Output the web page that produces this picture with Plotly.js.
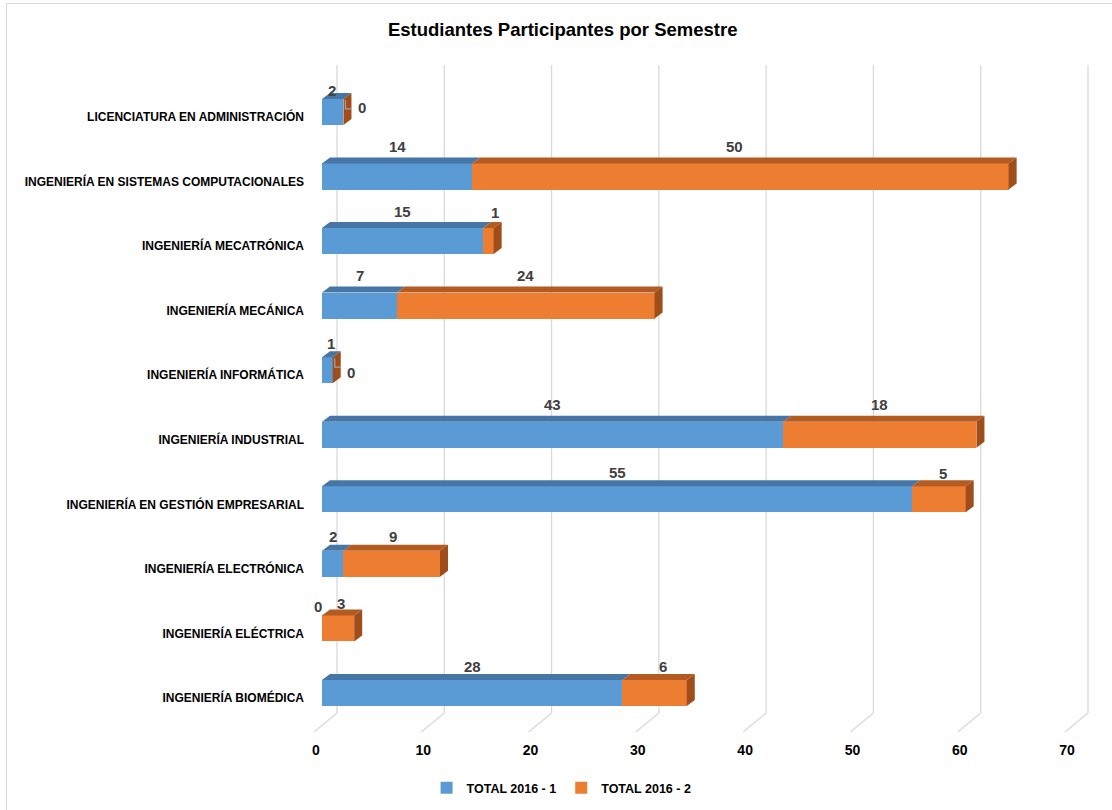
<!DOCTYPE html>
<html>
<head>
<meta charset="utf-8">
<script src="https://cdn.plot.ly/plotly-3.0.1.min.js"></script>
<style>
  html, body { margin: 0; padding: 0; background: #ffffff; }
  #chart { width: 1112px; height: 810px; }
  #frame { position: absolute; left: 6px; top: 3px; width: 1200px; height: 900px;
           border-left: 1px solid #d9d9d9; border-top: 1px solid #d9d9d9; pointer-events: none; }
</style>
</head>
<body>
<div id="chart"></div>
<div id="frame"></div>
<script>
// ---------------- data ----------------
const categories = [
  'INGENIERÍA BIOMÉDICA',
  'INGENIERÍA ELÉCTRICA',
  'INGENIERÍA ELECTRÓNICA',
  'INGENIERÍA EN GESTIÓN EMPRESARIAL',
  'INGENIERÍA INDUSTRIAL',
  'INGENIERÍA INFORMÁTICA',
  'INGENIERÍA MECÁNICA',
  'INGENIERÍA MECATRÓNICA',
  'INGENIERÍA EN SISTEMAS COMPUTACIONALES',
  'LICENCIATURA EN ADMINISTRACIÓN'
];
const total2016_1 = [28, 0, 2, 55, 43, 1, 7, 15, 14, 2];
const total2016_2 = [6, 3, 9, 5, 18, 0, 24, 1, 50, 0];
const seriesNames = ['TOTAL 2016 - 1', 'TOTAL 2016 - 2'];
const xTicks = [0, 10, 20, 30, 40, 50, 60, 70];
const chartTitle = 'Estudiantes Participantes por Semestre';

// ---------------- styling / geometry ----------------
const FONT = '"Liberation Sans Narrow", "Arial Narrow", "Liberation Sans", Arial, sans-serif';
const W = 1112, H = 810;
const M = { l: 305, r: 12, t: 60, b: 78 };
const plotW = W - M.l - M.r, plotH = H - M.t - M.b;
const pxPerX = 751 / 70;                 // front-plane scale
const xMin = -17 / pxPerX;
const xMax = xMin + plotW / pxPerX;
const pxPerY = 64.56;
const yMin = -0.527;
const yMax = yMin + plotH / pxPerY;
const barWidth = 0.403, barOffset = -0.124;
const depthX = 8 / pxPerX, depthY = 6 / pxPerY;

const colors = {
  blue: '#5B9BD5', blueTop: '#4576A6',
  orange: '#ED7D31', orangeTop: '#B35B22', orangeSide: '#9E4D1B',
  grid: '#D9D9D9', text: '#404040'
};

const yIdx = categories.map((_, i) => i);

const traces = [
  { type: 'bar', orientation: 'h', name: seriesNames[0], y: yIdx, x: total2016_1,
    width: barWidth, offset: barOffset, marker: { color: colors.blue, line: { width: 0 } },
    hoverinfo: 'skip' },
  { type: 'bar', orientation: 'h', name: seriesNames[1], y: yIdx, x: total2016_2,
    width: barWidth, offset: barOffset, marker: { color: colors.orange, line: { width: 0 } },
    hoverinfo: 'skip' }
];

// ---------------- shapes: back gridlines + floor ticks ----------------
const shapes = [];
const backFloor = 19 / plotH, topGrid = (plotH - 5) / plotH;
xTicks.forEach(v => {
  shapes.push({ type: 'line', layer: 'below', xref: 'x', xsizemode: 'pixel', xanchor: v,
    x0: 15, x1: 15, yref: 'paper', y0: backFloor, y1: topGrid,
    line: { color: colors.grid, width: 1.3 } });
  shapes.push({ type: 'line', layer: 'below', xref: 'x', xsizemode: 'pixel', xanchor: v,
    x0: 15, x1: -8, yref: 'paper', y0: backFloor, y1: 0,
    line: { color: colors.grid, width: 1.3 } });
});

// ---------------- shapes: 3D faces of bars ----------------
function poly(pts) {
  return 'M ' + pts.map(p => p[0] + ',' + p[1]).join(' L ') + ' Z';
}
categories.forEach((c, i) => {
  const top = i + barOffset + barWidth, bot = i + barOffset;
  const segs = [
    [0, total2016_1[i], colors.blueTop],
    [total2016_1[i], total2016_1[i] + total2016_2[i], colors.orangeTop]
  ];
  segs.forEach(([a, b, col]) => {
    if (b > a) {
      shapes.push({ type: 'path', layer: 'above', xref: 'x', yref: 'y',
        path: poly([[a, top], [b, top], [b + depthX, top + depthY], [a + depthX, top + depthY]]),
        fillcolor: col, line: { width: 0 } });
    }
  });
  const end = total2016_1[i] + total2016_2[i];
  shapes.push({ type: 'path', layer: 'above', xref: 'x', yref: 'y',
    path: poly([[end, bot], [end, top], [end + depthX, top + depthY], [end + depthX, bot + depthY]]),
    fillcolor: colors.orangeSide, line: { width: 0 } });
  // leader line for zero-value labels
  if (total2016_2[i] === 0) {
    shapes.push({ type: 'path', layer: 'above', xref: 'x', yref: 'y',
      xsizemode: 'pixel', ysizemode: 'pixel', xanchor: end, yanchor: top,
      path: 'M 2,-1 L 2,-10 L 8,-10', line: { color: '#A6A6A6', width: 1.2 } });
  }
});

// ---------------- data labels ----------------
const labelAdjust = {
  '9-0': { dx: -1, dy: 8 },  '9-1': { dx: 19, dy: -9 },
  '7-1': { dx: 7, dy: 16 },
  '5-0': { dx: 4, dy: 14 },  '5-1': { dx: 18, dy: -15 },
  '2-0': { dx: 0, dy: 14 },  '2-1': { dx: 1, dy: 14 },
  '1-0': { dx: -4, dy: 9 },  '1-1': { dx: 3, dy: 12 },
  '3-0': { dx: 0, dy: 14 },  '3-1': { dx: 4, dy: 13 },
  '0-0': { dx: 0, dy: 13 },  '0-1': { dx: 8, dy: 13 },
  '8-1': { dx: -6, dy: 17 }
};
const annotations = [];
categories.forEach((c, i) => {
  const top = i + barOffset + barWidth;
  const vals = [total2016_1[i], total2016_2[i]];
  let start = 0;
  vals.forEach((v, s) => {
    const adj = labelAdjust[i + '-' + s] || { dx: 0, dy: 17 };
    annotations.push({ xref: 'x', yref: 'y', x: start + v / 2, y: top,
      text: String(v), showarrow: false, xanchor: 'center', yanchor: 'middle',
      xshift: adj.dx, yshift: adj.dy,
      font: { family: FONT, size: 15, color: colors.text, weight: 'bold' } });
    start += v;
  });
});

const layout = {
  width: W, height: H,
  margin: M,
  paper_bgcolor: '#ffffff', plot_bgcolor: 'rgba(0,0,0,0)',
  barmode: 'stack', bargap: 0,
  title: { text: chartTitle, x: 0.506, xanchor: 'center', y: 1 - 30 / H, yanchor: 'middle',
    xref: 'container', yref: 'container',
    font: { family: FONT, size: 18.5, color: '#000000', weight: 'bold' } },
  xaxis: { range: [xMin, xMax], tickvals: xTicks, ticktext: xTicks.map(String),
    showgrid: false, zeroline: false, showline: false, ticks: '',
    ticklabelshift: -6, ticklabelstandoff: 8,
    tickfont: { family: FONT, size: 14, color: '#000000', weight: 'bold' }, fixedrange: true },
  yaxis: { range: [yMin, yMax], tickvals: yIdx, ticktext: categories,
    showgrid: false, zeroline: false, showline: false, ticks: '',
    tickfont: { family: FONT, size: 12, color: '#000000', weight: 'bold' }, fixedrange: true },
  shapes: shapes,
  annotations: annotations,
  showlegend: true,
  legend: { orientation: 'h', xref: 'container', yref: 'container', x: 0.505, xanchor: 'center',
    y: 1 - 788 / H, yanchor: 'middle', traceorder: 'normal',
    font: { family: FONT, size: 12.5, color: '#000000', weight: 'bold' }, itemwidth: 30 },
  hovermode: false
};

Plotly.newPlot('chart', traces, layout, { displayModeBar: false, staticPlot: true });
</script>
</body>
</html>
